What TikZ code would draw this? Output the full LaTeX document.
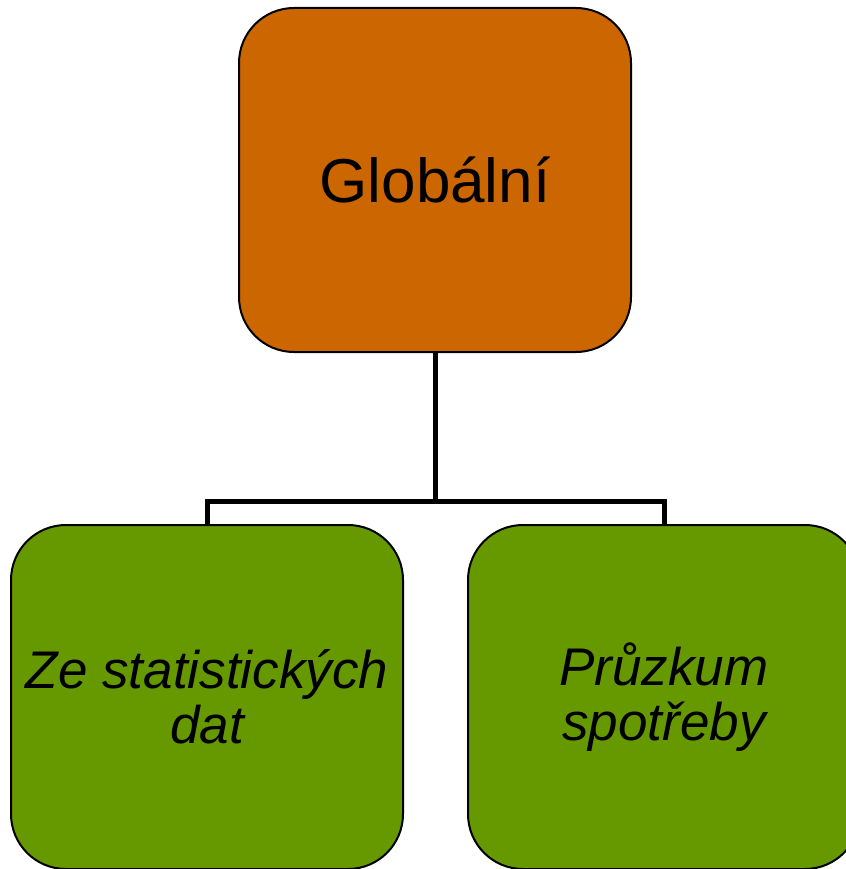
\documentclass[tikz,border=0pt]{standalone}
\usepackage{fontspec}
\setmainfont{Liberation Sans}
\usepackage{tikz}
\usetikzlibrary{positioning}
\definecolor{orangebox}{HTML}{CC6600}
\definecolor{greenbox}{HTML}{669900}

\begin{document}
\begin{tikzpicture}[x=1pt,y=-1pt,
 box/.style={draw,line width=2pt,rectangle,rounded corners=55pt,
  minimum width=392pt,minimum height=344pt,align=center,inner sep=0pt},
 topbox/.style={box,fill=orangebox,font=\fontsize{62}{62}\selectfont},
 leafbox/.style={box,fill=greenbox,font=\fontsize{53}{55}\itshape\selectfont},
 conn/.style={line width=5pt}]
 \useasboundingbox (0,0) rectangle (845,869);
 \node[topbox] (glob) at (435,180) {Globální};
 \node[leafbox] (stat) at (207,697) {Ze statistických\\dat};
 \node[leafbox] (pruz) at (664,697) {Průzkum\\spotřeby};
 \coordinate (fork) at (435,501);
 \draw[conn] (glob.south) -- (fork);
 \draw[conn] (stat.north) |- (fork) -| (pruz.north);
\end{tikzpicture}
\end{document}
